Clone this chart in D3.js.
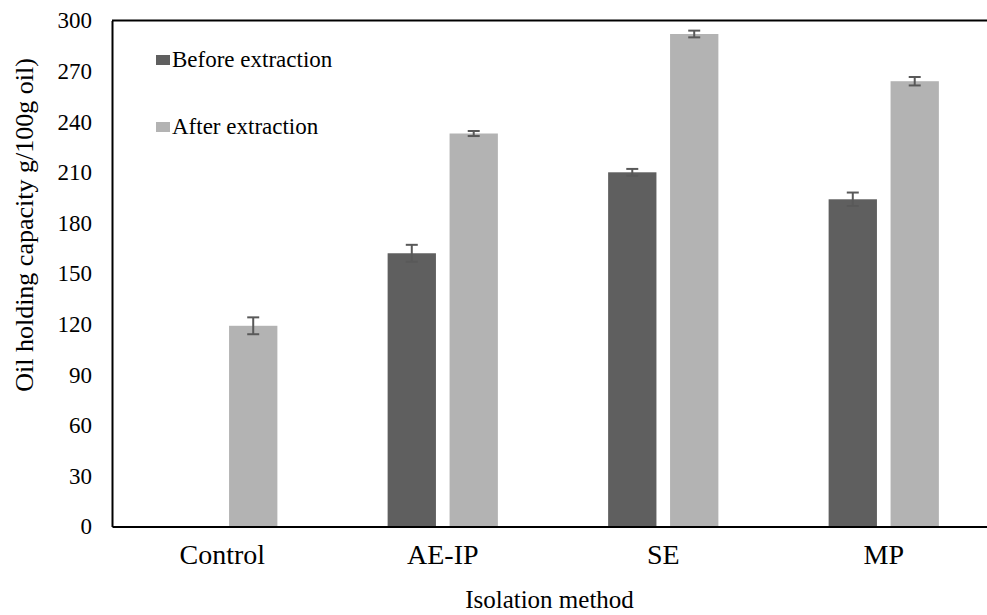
<!DOCTYPE html>
<html>
<head>
<meta charset="utf-8">
<script src="https://cdn.jsdelivr.net/npm/d3@7"></script>
<style>
  body { margin: 0; background: #fff; }
  text { font-family: "Liberation Serif", "Times New Roman", "DejaVu Serif", serif; fill: #000; }
</style>
</head>
<body>
<div id="wrapper"></div>
<script>
// data
const categories = ["Control", "AE-IP", "SE", "MP"]
const seriesNames = ["Before extraction", "After extraction"]
const beforeValues = [null, 162, 210, 194]
const beforeErrors = [null, 5, 2, 4]
const afterValues = [119, 233, 292, 264]
const afterErrors = [5, 1.5, 2, 2.5]
const yTicks = [0, 30, 60, 90, 120, 150, 180, 210, 240, 270, 300]

const colors = ["#5f5f5f", "#b3b3b3"]
const serif = "'Liberation Serif', 'Times New Roman', serif"

// dimensions
let dimensions = {
  width: 987,
  height: 615,
  margin: { top: 20.5, bottom: 88.5, left: 112, right: -7 }
}
dimensions.boundedWidth = dimensions.width - dimensions.margin.left - dimensions.margin.right
dimensions.boundedHeight = dimensions.height - dimensions.margin.top - dimensions.margin.bottom

const svg = d3.select("#wrapper").append("svg")
    .attr("width", dimensions.width)
    .attr("height", dimensions.height)

const bounds = svg.append("g")
    .attr("transform", `translate(${dimensions.margin.left},${dimensions.margin.top})`)

// scales
const x0 = d3.scaleBand()
    .domain(categories)
    .range([0, dimensions.boundedWidth])
    .paddingInner(0.5)
    .paddingOuter(0.25)
const x1 = d3.scaleBand()
    .domain(seriesNames)
    .range([0, x0.bandwidth()])
    .paddingInner(0.22)
const yScale = d3.scaleLinear()
    .domain([0, 300])
    .range([dimensions.boundedHeight, 0])

// table for drawing
const rows = []
categories.forEach((c, i) => {
  rows.push({ cat: c, series: seriesNames[0], value: beforeValues[i], err: beforeErrors[i], color: colors[0] })
  rows.push({ cat: c, series: seriesNames[1], value: afterValues[i], err: afterErrors[i], color: colors[1] })
})
const drawn = rows.filter(d => d.value != null)

// bars
bounds.append("g").selectAll("rect")
    .data(drawn)
    .join("rect")
    .attr("x", d => x0(d.cat) + x1(d.series))
    .attr("y", d => yScale(d.value))
    .attr("width", x1.bandwidth())
    .attr("height", d => yScale(0) - yScale(d.value))
    .attr("fill", d => d.color)

// error bars
const errG = bounds.append("g")
    .attr("stroke", "#595959")
    .attr("stroke-width", 2)
const cx = d => x0(d.cat) + x1(d.series) + x1.bandwidth() / 2
errG.selectAll(".stem").data(drawn).join("line")
    .attr("x1", cx).attr("x2", cx)
    .attr("y1", d => yScale(d.value + d.err))
    .attr("y2", d => yScale(d.value - d.err))
errG.selectAll(".capT").data(drawn).join("line")
    .attr("x1", d => cx(d) - 6).attr("x2", d => cx(d) + 6)
    .attr("y1", d => yScale(d.value + d.err))
    .attr("y2", d => yScale(d.value + d.err))
errG.selectAll(".capB").data(drawn).join("line")
    .attr("x1", d => cx(d) - 6).attr("x2", d => cx(d) + 6)
    .attr("y1", d => yScale(d.value - d.err))
    .attr("y2", d => yScale(d.value - d.err))

// top frame line
bounds.append("line")
    .attr("x1", 0).attr("x2", dimensions.boundedWidth)
    .attr("y1", 0).attr("y2", 0)
    .attr("stroke", "#000").attr("stroke-width", 2)

// y axis
const yAxis = d3.axisLeft(yScale).tickValues(yTicks).tickSize(0).tickPadding(20)
const yAxisG = bounds.append("g").call(yAxis)
yAxisG.attr("font-family", serif)
yAxisG.select(".domain").attr("stroke", "#000").attr("stroke-width", 2)
yAxisG.selectAll("text")
    .style("font-size", "23px")
    .style("font-family", serif)
    .attr("fill", "#000")

// x axis
const xAxis = d3.axisBottom(x0).tickSize(0).tickPadding(18)
const xAxisG = bounds.append("g")
    .attr("transform", `translate(0,${dimensions.boundedHeight})`)
    .call(xAxis)
xAxisG.attr("font-family", serif)
xAxisG.select(".domain").attr("stroke", "#000").attr("stroke-width", 2)
xAxisG.selectAll("text")
    .style("font-size", "28px")
    .style("font-family", serif)
    .attr("fill", "#000")

// axis titles
svg.append("text")
    .attr("transform", "translate(33,225) rotate(-90)")
    .attr("text-anchor", "middle")
    .style("font-size", "26px")
    .text("Oil holding capacity g/100g oil)")
svg.append("text")
    .attr("x", dimensions.margin.left + (987 - dimensions.margin.left) / 2)
    .attr("y", 608)
    .attr("text-anchor", "middle")
    .style("font-size", "25px")
    .text("Isolation method")

// legend
const legend = svg.append("g")
    .attr("transform", "translate(156,55)")
const items = legend.selectAll("g").data(seriesNames).join("g")
    .attr("transform", (d, i) => `translate(0,${i * 67})`)
items.append("rect")
    .attr("width", 14).attr("height", 10)
    .attr("fill", (d, i) => colors[i])
items.append("text")
    .attr("x", 16).attr("y", 11.5)
    .style("font-size", "23px")
    .text(d => d)
</script>
</body>
</html>
